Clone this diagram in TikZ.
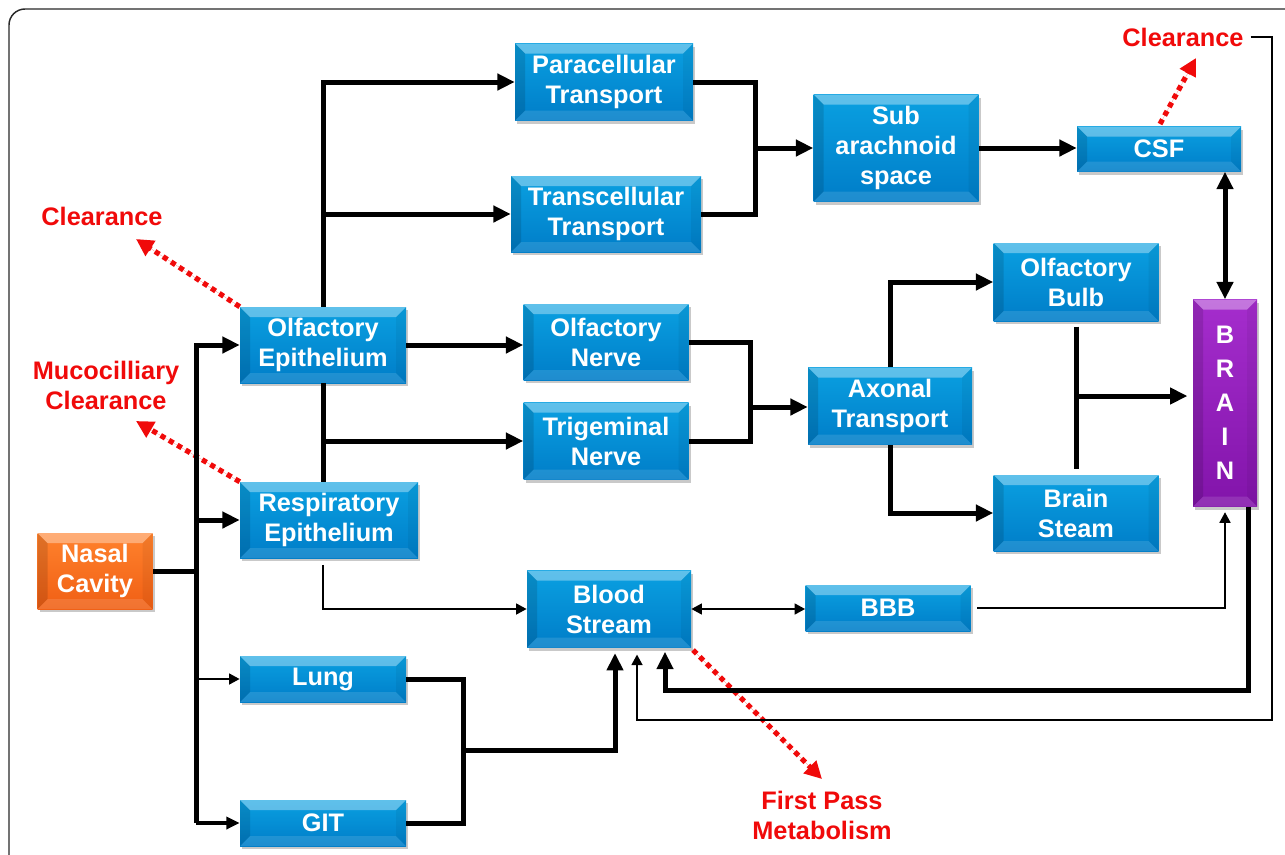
\documentclass[tikz,border=0pt]{standalone}
\usepackage{fontspec}
\setmainfont{Liberation Sans}
\usetikzlibrary{arrows.meta,shadows}
\definecolor{bluetop}{RGB}{10,160,225}
\definecolor{bluebot}{RGB}{0,125,200}
\definecolor{ortop}{RGB}{255,130,45}
\definecolor{orbot}{RGB}{240,95,20}
\definecolor{putop}{RGB}{165,45,205}
\definecolor{pubot}{RGB}{130,20,170}
\definecolor{redlbl}{RGB}{240,10,10}
\definecolor{framec}{RGB}{40,40,40}
\begin{document}
\begin{tikzpicture}[x=0.75pt,y=-0.75pt,
  sz/.style 2 args={minimum width=#1*0.75pt, minimum height=#2*0.75pt},
  bev/.style={path picture={
    \fill[white,opacity=0.35] (path picture bounding box.north west) -- (path picture bounding box.north east) -- ([shift={(-10,10)}]path picture bounding box.north east) -- ([shift={(10,10)}]path picture bounding box.north west) -- cycle;
    \fill[white,opacity=0.12] (path picture bounding box.south west) -- (path picture bounding box.south east) -- ([shift={(-10,-10)}]path picture bounding box.south east) -- ([shift={(10,-10)}]path picture bounding box.south west) -- cycle;
    \fill[black,opacity=0.12] (path picture bounding box.south west) -- (path picture bounding box.north west) -- ([shift={(10,10)}]path picture bounding box.north west) -- ([shift={(10,-10)}]path picture bounding box.south west) -- cycle;
    \fill[black,opacity=0.05] (path picture bounding box.south east) -- (path picture bounding box.north east) -- ([shift={(-10,10)}]path picture bounding box.north east) -- ([shift={(-10,-10)}]path picture bounding box.south east) -- cycle;
  }},
  bx/.style={inner sep=0pt, align=center, text=white,
    font=\bfseries\fontsize{19}{22.5}\selectfont,
    drop shadow={shadow xshift=1.5pt, shadow yshift=-2.5pt, opacity=0.3, fill=black!70},
    bev},
  bluebox/.style={bx, top color=bluetop, bottom color=bluebot},
  orangebox/.style={bx, top color=ortop, bottom color=orbot},
  purplebox/.style={bx, top color=putop, bottom color=pubot, font=\bfseries\fontsize{19}{25.5}\selectfont},
  lbl/.style={inner sep=2pt, align=center, text=redlbl, font=\bfseries\fontsize{19}{22.5}\selectfont},
  thk/.style={line width=3.75pt, draw=black},
  med/.style={line width=2.6pt, draw=black},
  thn/.style={line width=1.9pt, draw=black},
  tipL/.style={-{Triangle[length=13pt,width=12pt]}},
  tipM/.style={-{Triangle[length=10pt,width=9pt]}},
  tipS/.style={-{Triangle[length=8pt,width=8pt]}},
  reddot/.style={draw=redlbl, line width=3.9pt, dash pattern=on 3.9pt off 3.3pt, -{Triangle[length=13pt,width=13pt]}, fill=redlbl}
]
\useasboundingbox (0,0) rectangle (1285,854);
\clip (0,0) rectangle (1285,854);
\draw[framec, line width=1.1pt, rounded corners=12pt] (9,9) rectangle (1310,890);

% nodes
\node[orangebox,sz={115}{76}] (nasal) at (95,571) {Nasal\\Cavity};
\node[bluebox,sz={166}{76}] (oe) at (323,345) {Olfactory\\Epithelium};
\node[bluebox,sz={178}{76}] (re) at (329,520) {Respiratory\\Epithelium};
\node[bluebox,sz={166}{46}] (lung) at (323,679) {Lung};
\node[bluebox,sz={166}{46}] (git) at (323,823) {GIT};
\node[bluebox,sz={178}{77}] (para) at (604,82) {Paracellular\\Transport};
\node[bluebox,sz={190}{76}] (trans) at (606,214) {Transcellular\\Transport};
\node[bluebox,sz={165}{76}] (on) at (606,342) {Olfactory\\Nerve};
\node[bluebox,sz={165}{77}] (trig) at (606,441) {Trigeminal\\Nerve};
\node[bluebox,sz={164}{77}] (blood) at (609,609) {Blood\\Stream};
\node[bluebox,sz={165}{107}] (sub) at (896,148) {Sub\\arachnoid\\space};
\node[bluebox,sz={164}{45}] (csf) at (1159,149) {CSF};
\node[bluebox,sz={164}{77}] (ax) at (890,406) {Axonal\\Transport};
\node[bluebox,sz={165}{78}] (ob) at (1076,282) {Olfactory\\Bulb};
\node[bluebox,sz={165}{76}] (bs) at (1076,513) {Brain\\Steam};
\node[bluebox,sz={165}{46}] (bbb) at (888,608) {BBB};
\node[purplebox,sz={64}{207}] (brain) at (1225,403) {B\\R\\A\\I\\N};

% red labels
\node[lbl] (clr1) at (102,216) {Clearance};
\node[lbl] (muc) at (106,385) {Mucocilliary\\Clearance};
\node[lbl] (clr3) at (1183,37) {Clearance};
\node[lbl] (fpm) at (822,815) {First Pass\\Metabolism};

% junction coordinates
\coordinate (tkB) at (196,823);
\coordinate (m1) at (755,148);
\coordinate (m2) at (750,407);
\coordinate (m3) at (1076,396);
\coordinate (m4) at (463,750);
\coordinate (bin1) at (665,690);
\coordinate (bo) at (1248,690);
\coordinate (bin2) at (637,720);
\coordinate (cr) at (1272,720);
\coordinate (bin3) at (615,750);
\coordinate (t1) at (136,239);
\coordinate (t2) at (136,421);
\coordinate (t3) at (1196,58);
\coordinate (t4) at (822,779);
\coordinate (s3) at (1160,124);
\coordinate (s4) at (693,650);

% red dotted arrows
\draw[reddot] (oe.north west) -- (t1);
\draw[reddot] (re.north west) -- (t2);
\draw[reddot] (s3) -- (t3);
\draw[reddot] (s4) -- (t4);

% left trunk
\draw[thk] (nasal.east) -- (nasal.east -| tkB);
\draw[thk,tipL] (tkB) |- (oe.west);
\draw[thk,tipL] (re.west -| tkB) -- (re.west);
\draw[thn,tipS] (lung.west -| tkB) -- (lung.west);
\draw[med,tipM] (tkB) -- (git.west);

% olfactory epithelium branches
\draw[thk,tipL] (oe.north) |- (para.west);
\draw[thk,tipL] (oe.north |- trans.west) -- (trans.west);
\draw[thk] (oe.south) -- (oe.south |- re.north);
\draw[thk,tipL] (oe.south |- trig.west) -- (trig.west);
\draw[thk,tipL] (oe.east) -- (oe.east -| on.west);

% para/trans merge
\draw[thk] (para.east) -- (para.east -| m1) -- (trans.east -| m1) -- (trans.east);
\draw[thk,tipL] (m1) -- (m1 -| sub.west);
\draw[thk,tipL] (sub.east) -- (sub.east -| csf.west);
\draw[thk,{Triangle[length=13pt,width=12pt]}-{Triangle[length=13pt,width=12pt]}] (brain.north |- csf.south) -- (brain.north);

% nerves merge
\draw[thk] (on.east) -- (on.east -| m2) -- (trig.east -| m2) -- (trig.east);
\draw[thk,tipL] (m2) -- (m2 -| ax.west);
\draw[thk,tipL] (ax.north) |- (ob.west);
\draw[thk,tipL] (ax.south) |- (bs.west);
\draw[thk,shorten <=4pt,shorten >=4pt] (ob.south) -- (bs.north);
\draw[thk,tipL,shorten >=4pt] (m3) -- (m3 -| brain.west);

% respiratory to blood
\draw[thn,tipS,shorten <=5pt] (oe.south |- re.south) |- (blood.west);
\draw[thn,{Triangle[length=8pt,width=8pt]}-{Triangle[length=8pt,width=8pt]}] (blood.east) -- (blood.east -| bbb.west);
\draw[thn,tipS,shorten <=5pt,shorten >=4pt] (bbb.east) -| (brain.south);

% brain back to blood
\draw[thk,tipL,shorten >=3pt] (bo |- brain.south) -- (bo) -- (bin1) -- (bin1 |- blood.south);
\draw[thn,tipS,shorten <=3pt,shorten >=5pt] (clr3.east) -| (cr) -- (bin2) -- (bin2 |- blood.south);

% lung / git merge
\draw[thk] (lung.east) -| (m4);
\draw[thk] (git.east) -| (m4);
\draw[thk,tipL,shorten >=4pt] (m4) -- (bin3) -- (bin3 |- blood.south);
\end{tikzpicture}
\end{document}
